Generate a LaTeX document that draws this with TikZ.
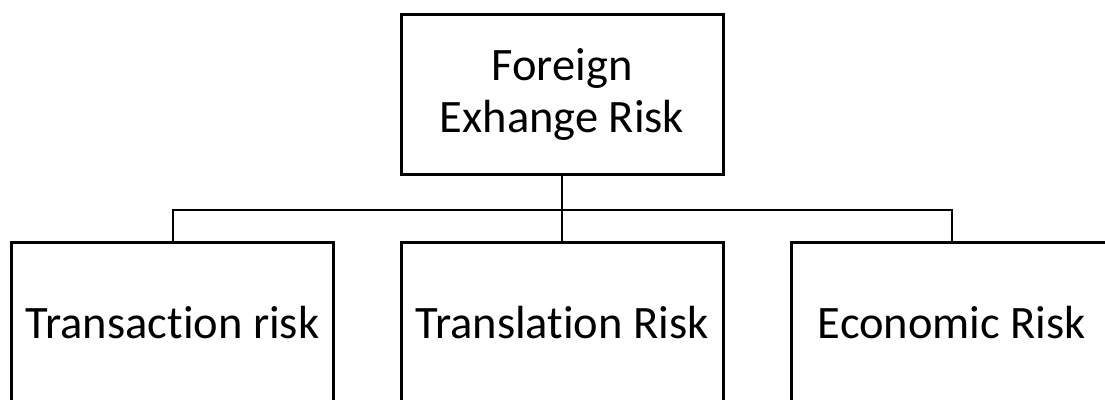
\documentclass[tikz,border=0pt]{standalone}
\usepackage{fontspec}
\setmainfont[Ligatures=NoCommon]{Carlito}
\usepackage{tikz}
\usetikzlibrary{positioning}

\begin{document}
\begin{tikzpicture}[x=1pt,y=1pt,riskbox/.style={rectangle, draw=black, line width=3pt, minimum width=322pt, minimum height=160pt, align=center, font=\fontsize{46.5}{52}\selectfont, inner sep=0pt},conn/.style={draw=black, line width=2pt}]
    \clip (0,0) rectangle (1105,399);
    \node (n1) at (562,304)[riskbox]{Foreign\\Exhange Risk};
    \node (n2) at (172.5,76)[riskbox]{Transaction risk};
    \node (n3) at (562,76)[riskbox]{Translation Risk};
    \node (n4) at (952,76)[riskbox]{Economic Risk};
    \coordinate (bus) at (562,189);
    \draw[conn] (n1.south) -- (n3.north);
    \draw[conn] (n2.north) |- (bus) -| (n4.north);
\end{tikzpicture}
\end{document}
